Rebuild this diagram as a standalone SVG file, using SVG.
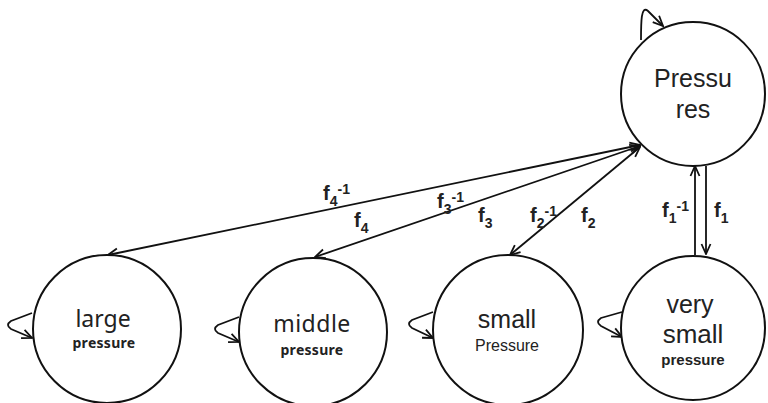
<svg xmlns="http://www.w3.org/2000/svg" width="768" height="403" viewBox="0 0 768 403">
<style>
.node circle{fill:#fff;stroke:#111;stroke-width:2}
.edge{fill:none;stroke:#111;stroke-width:1.8}
.lbl{font-family:"Liberation Sans",Arial,sans-serif;font-size:20px;font-weight:bold;fill:#222}
.sm{font-size:14px}
.t1{font-family:"Noto Sans","Liberation Sans",sans-serif;fill:#222}
.t2{font-family:"Liberation Sans",Arial,sans-serif;fill:#222}
</style>
<defs>
<marker id="ah" viewBox="0 0 12 12" refX="11" refY="6" markerWidth="12" markerHeight="12" markerUnits="userSpaceOnUse" orient="auto-start-reverse">
<path d="M1,1.5 L11,6 L1,10.5" fill="none" stroke="#111" stroke-width="1.8"/>
</marker>
</defs>
<rect width="768" height="403" fill="#fff"/>
<g id="connectors">
<path class="edge" d="M640,145 L108,255" marker-start="url(#ah)" marker-end="url(#ah)"/>
<path class="edge" d="M640,146 L315,257" marker-start="url(#ah)" marker-end="url(#ah)"/>
<path class="edge" d="M640,147 L510,255" marker-start="url(#ah)" marker-end="url(#ah)"/>
<path class="edge" d="M695,255 L695,166" marker-end="url(#ah)"/>
<path class="edge" d="M706,166 L706,254" marker-end="url(#ah)"/>
<path class="edge" d="M641,40 C641,22 641,5 648,11 L663,26" marker-end="url(#ah)"/>
<path class="edge" d="M32,313 L11,321 Q5,325 11,329 L32,338" marker-end="url(#ah)"/>
<path class="edge" d="M239,317 L218,325 Q212,329 218,333 L239,342" marker-end="url(#ah)"/>
<path class="edge" d="M433,312 L412,320 Q406,324 412,328 L433,338" marker-end="url(#ah)"/>
<path class="edge" d="M622,312 L601,318 Q595,322 601,326 L622,337" marker-end="url(#ah)"/>
<text class="lbl" x="323" y="200">f<tspan class="sm" dy="6">4</tspan><tspan class="sm" dy="-12">-1</tspan></text>
<text class="lbl" x="354" y="227">f<tspan class="sm" dy="6">4</tspan></text>
<text class="lbl" x="437" y="208">f<tspan class="sm" dy="6">3</tspan><tspan class="sm" dy="-12">-1</tspan></text>
<text class="lbl" x="478" y="222">f<tspan class="sm" dy="6">3</tspan></text>
<text class="lbl" x="530" y="222">f<tspan class="sm" dy="6">2</tspan><tspan class="sm" dy="-12">-1</tspan></text>
<text class="lbl" x="581" y="222">f<tspan class="sm" dy="6">2</tspan></text>
<text class="lbl" x="662" y="217">f<tspan class="sm" dy="6">1</tspan><tspan class="sm" dy="-12">-1</tspan></text>
<text class="lbl" x="714" y="217">f<tspan class="sm" dy="6">1</tspan></text>
</g>
<g id="pressures" class="node">
<circle cx="693" cy="94" r="72"/>
<text class="t2" x="693" y="87" font-size="25" text-anchor="middle">Pressu</text>
<text class="t2" x="693" y="118" font-size="25" text-anchor="middle">res</text>
</g>
<g id="large" class="node">
<circle cx="107" cy="329" r="74"/>
<text class="t1" x="103" y="327" font-size="23" text-anchor="middle">large</text>
<text class="t1" x="104" y="348" font-size="14" font-weight="bold" text-anchor="middle" letter-spacing="0.3">pressure</text>
</g>
<g id="middle" class="node">
<circle cx="313" cy="332" r="74"/>
<text class="t1" x="312" y="332" font-size="23" text-anchor="middle" letter-spacing="0.5">middle</text>
<text class="t1" x="312" y="355" font-size="14" font-weight="bold" text-anchor="middle" letter-spacing="0.3">pressure</text>
</g>
<g id="small" class="node">
<circle cx="508" cy="330" r="75"/>
<text class="t2" x="507" y="328" font-size="25" text-anchor="middle">small</text>
<text class="t2" x="507" y="351" font-size="16" text-anchor="middle">Pressure</text>
</g>
<g id="verysmall" class="node">
<circle cx="693" cy="328" r="72"/>
<text class="t2" x="690" y="313" font-size="25" text-anchor="middle">very</text>
<text class="t2" x="693" y="343" font-size="26" text-anchor="middle">small</text>
<text class="t2" x="693" y="365" font-size="15" font-weight="bold" text-anchor="middle">pressure</text>
</g>
</svg>
